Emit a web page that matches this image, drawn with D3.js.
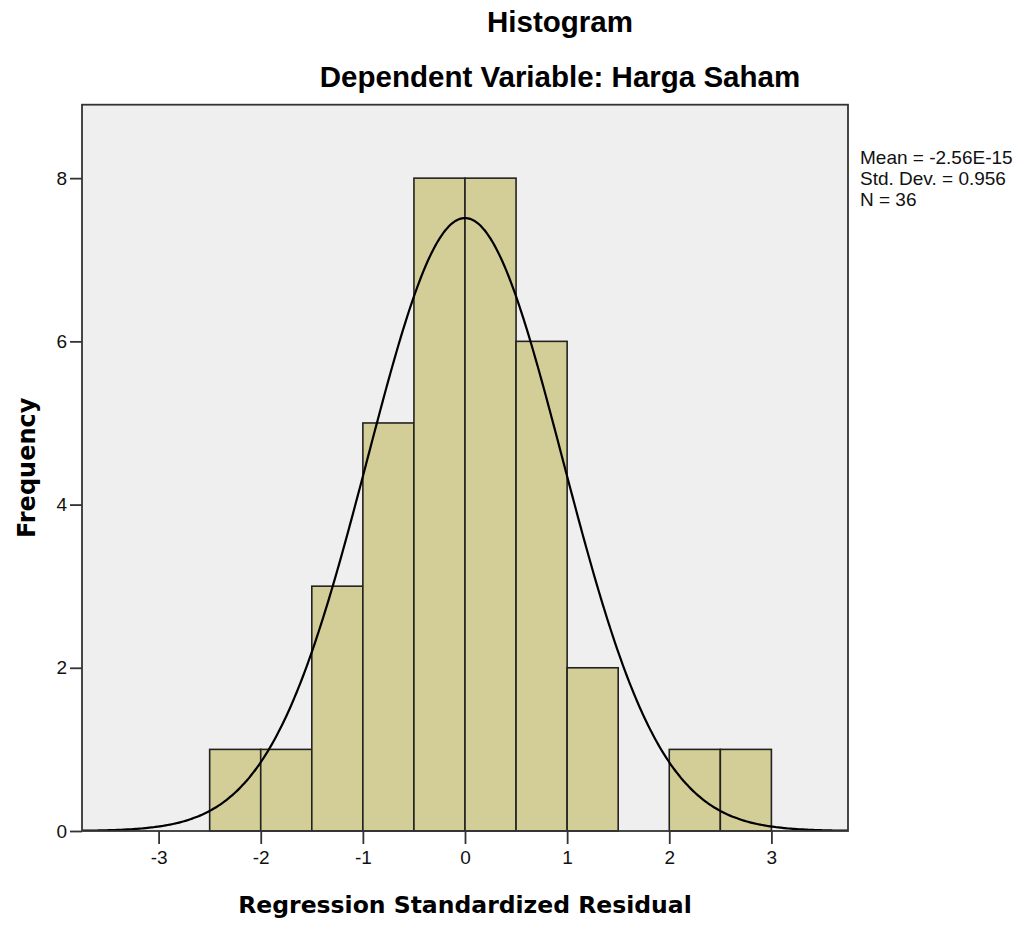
<!DOCTYPE html>
<html>
<head>
<meta charset="utf-8">
<script src="https://cdn.jsdelivr.net/npm/d3@7"></script>
<style>
  html, body { margin: 0; padding: 0; background: #ffffff; }
  svg { display: block; }
</style>
</head>
<body>
<svg id="chart" width="1028" height="925"></svg>
<script>
// ---- data ----
const binStarts = [-2.5, -2, -1.5, -1, -0.5, 0, 0.5, 1, 1.5, 2, 2.5];
const counts    = [1, 1, 3, 5, 8, 8, 6, 2, 0, 1, 1];
const binWidth  = 0.5;
const xTicks = [-3, -2, -1, 0, 1, 2, 3];
const yTicks = [0, 2, 4, 6, 8];
const statMean = -2.56e-15;
const statSd = 0.956;
const statN = 36;
const legendLines = ["Mean = -2.56E-15", "Std. Dev. = 0.956", "N = 36"];
const title = "Histogram";
const subtitle = "Dependent Variable: Harga Saham";
const xTitle = "Regression Standardized Residual";
const yTitle = "Frequency";

// ---- layout ----
const svg = d3.select("#chart");
const L = 82, R = 848, T = 104.7, B = 831;
const x = d3.scaleLinear().domain([-3.75, 3.75]).range([L, R]);
const y = d3.scaleLinear().domain([0, 8.9]).range([B, T]);

// background
svg.append("rect").attr("x", L).attr("y", T).attr("width", R - L).attr("height", B - T)
  .attr("fill", "#efefef");

// bars
const bins = binStarts.map((s, i) => ({ x0: s, x1: s + binWidth, c: counts[i] })).filter(d => d.c > 0);
svg.append("g").selectAll("rect").data(bins).join("rect")
  .attr("x", d => x(d.x0))
  .attr("y", d => y(d.c))
  .attr("width", d => x(d.x1) - x(d.x0))
  .attr("height", d => y(0) - y(d.c))
  .attr("fill", "#d3ce97")
  .attr("stroke", "#222")
  .attr("stroke-width", 1.6);

// normal curve (derived from the displayed statistics)
svg.append("clipPath").attr("id", "clip").append("rect")
  .attr("x", L).attr("y", T).attr("width", R - L).attr("height", B - T);
const pts = d3.range(-3.75, 3.7501, 0.02).map(v => [v,
  statN * binWidth * Math.exp(-0.5 * Math.pow((v - statMean) / statSd, 2)) / (statSd * Math.sqrt(2 * Math.PI))]);
svg.append("path").datum(pts)
  .attr("clip-path", "url(#clip)")
  .attr("fill", "none").attr("stroke", "#000").attr("stroke-width", 2.2)
  .attr("d", d3.line().x(d => x(d[0])).y(d => y(d[1])).curve(d3.curveBasis));

// frame
svg.append("rect").attr("x", L).attr("y", T).attr("width", R - L).attr("height", B - T)
  .attr("fill", "none").attr("stroke", "#333").attr("stroke-width", 1.8);

// axes
const xAxis = svg.append("g").attr("transform", `translate(0,${B})`)
  .call(d3.axisBottom(x).tickValues(xTicks).tickFormat(d => String(d)).tickSize(13).tickPadding(7));
const yAxis = svg.append("g").attr("transform", `translate(${L},0)`)
  .call(d3.axisLeft(y).tickValues(yTicks).tickFormat(d => String(d)).tickSize(12).tickPadding(3));
[xAxis, yAxis].forEach(g => {
  g.select(".domain").remove();
  g.selectAll(".tick line").attr("stroke", "#333").attr("stroke-width", 1.8);
  g.selectAll(".tick text").attr("fill", "#111")
    .style("font-family", "'Liberation Sans', Arial, sans-serif").style("font-size", "19px");
});

// titles
svg.append("text").attr("x", 560).attr("y", 32).attr("text-anchor", "middle")
  .style("font-family", "'Liberation Sans', Arial, sans-serif").style("font-size", "29.5px")
  .style("font-weight", "bold").attr("fill", "#000").text(title);
svg.append("text").attr("x", 560).attr("y", 87).attr("text-anchor", "middle")
  .style("font-family", "'Liberation Sans', Arial, sans-serif").style("font-size", "29.5px")
  .style("font-weight", "bold").attr("fill", "#000").text(subtitle);

svg.append("text").attr("x", (L + R) / 2).attr("y", 913).attr("text-anchor", "middle")
  .style("font-family", "'DejaVu Sans', sans-serif").style("font-size", "23.5px")
  .style("font-weight", "bold").attr("fill", "#000").text(xTitle);
svg.append("text").attr("transform", `translate(35,${(T + B) / 2}) rotate(-90)`).attr("text-anchor", "middle")
  .style("font-family", "'DejaVu Sans', sans-serif").style("font-size", "24px")
  .style("font-weight", "bold").attr("fill", "#000").text(yTitle);

// legend stats
svg.append("g").selectAll("text").data(legendLines).join("text")
  .attr("x", 860).attr("y", (d, i) => 164 + i * 21)
  .style("font-family", "'Liberation Sans', Arial, sans-serif").style("font-size", "19px")
  .attr("fill", "#111").text(d => d);
</script>
</body>
</html>
